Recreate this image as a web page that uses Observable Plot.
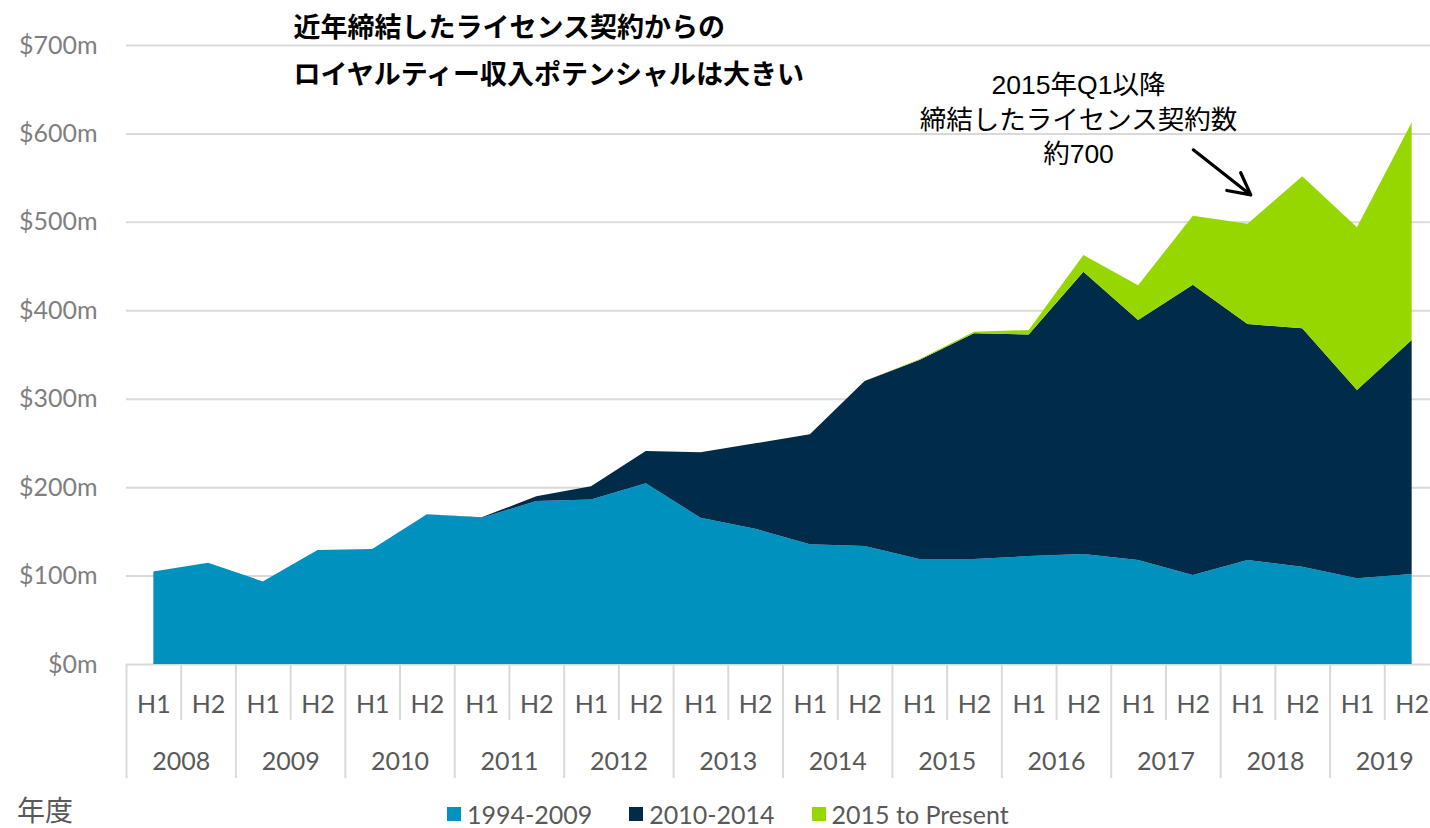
<!DOCTYPE html>
<html>
<head>
<meta charset="utf-8">
<script src="https://cdn.jsdelivr.net/npm/d3@7"></script>
<script src="https://cdn.jsdelivr.net/npm/@observablehq/plot@0.6"></script>
<style>
  html, body { margin: 0; padding: 0; background: #ffffff; }
  #wrap { position: relative; width: 1430px; height: 828px; overflow: hidden; }
  #chart svg { display: block; overflow: visible; }
  #nendo { position: absolute; left: 17px; top: 791px; font-family: "Noto Sans CJK JP", sans-serif; font-size: 28px; line-height: 36px; color: #595959; }
  #legend { position: absolute; left: 447px; top: 802px; height: 24px; display: flex; align-items: center; font-family: Lato, "Open Sans", sans-serif; font-size: 25px; line-height: 24px; color: #595959; }
  #legend .item { display: flex; align-items: center; margin-right: 37px; }
  #legend .sw { width: 14px; height: 14px; margin-right: 6px; }
</style>
</head>
<body>
<div id="wrap">
  <div id="chart"></div>
  <div id="nendo">年度</div>
  <div id="legend"></div>
</div>
<script>
// ---- data ----
const years = ["2008","2009","2010","2011","2012","2013","2014","2015","2016","2017","2018","2019"];
const halves = ["H1","H2"];
const seriesNames = ["1994-2009","2010-2014","2015 to Present"];
const seriesColors = ["#0091BE","#002B49","#97D700"];
// values in $m per half-year (stack components)
const v1994 = [104.5,114.6,93.4,129,130,169.3,165.5,184.3,186,204.3,165.5,153,135.4,133.4,118.7,118.7,122,124.4,117.6,100.6,117.6,110,96.9,101.8];
const v2010 = [0,0,0,0,0,0,0.5,5.3,15,36.6,73.9,96.5,124.3,186.6,225.1,255.3,250.5,319.2,271.4,328.3,266.9,269.6,212.9,264.6];
const v2015 = [0,0,0,0,0,0,0,0,0,0,0,0,0,0,0.8,1.8,5.2,18.9,39.2,78.1,113.5,171.9,184,246.1];
const yTicks = [0,100,200,300,400,500,600,700];
const titleLines = ["近年締結したライセンス契約からの","ロイヤルティー収入ポテンシャルは大きい"];
const noteText = ["2015年Q1以降","締結したライセンス契約数","約700"];
const noteArrow = [{x1: 19.0, y1: 582, x2: 20.05, y2: 531}];

// ---- build tables ----
const periods = [];
years.forEach(y => halves.forEach(h => periods.push({year: y, half: h})));
const seriesValues = [v1994, v2010, v2015];
const rows = [];
seriesNames.forEach((s, k) => {
  seriesValues[k].forEach((v, i) => rows.push({i, series: s, value: v}));
});
const idx = periods.map((_, i) => i);
const innerBounds = years.map((_, k) => 2 * k + 0.5);
const yearBounds = [-0.5, ...years.map((_, k) => 2 * k + 1.5)];
const yearCenters = years.map((_, k) => 2 * k + 0.5);

const tickFont = "Lato, 'Open Sans', sans-serif";

const chart = Plot.plot({
  width: 1430,
  height: 790,
  marginLeft: 126,
  marginRight: -9,
  marginTop: 45,
  marginBottom: 126,
  x: {domain: [-0.5, periods.length - 0.5]},
  y: {domain: [0, 700]},
  color: {domain: seriesNames, range: seriesColors},
  style: {fontFamily: tickFont, background: "#ffffff", overflow: "visible"},
  marks: [
    Plot.ruleY(yTicks, {stroke: "#d9d9d9", strokeWidth: 2}),
    Plot.areaY(rows, Plot.stackY({x: "i", y: "value", fill: "series", order: seriesNames})),
    Plot.axisY(yTicks, {anchor: "left", tickSize: 0, tickPadding: 29, tickFormat: d => `$${d}m`, fontSize: 25, fill: "#7f7f7f", label: null}),
    Plot.axisX(innerBounds, {anchor: "bottom", tickSize: 56, tickFormat: () => "", stroke: "#d9d9d9", strokeWidth: 2, label: null}),
    Plot.axisX(yearBounds, {anchor: "bottom", tickSize: 114, tickFormat: () => "", stroke: "#d9d9d9", strokeWidth: 2, label: null}),
    Plot.axisX(idx, {anchor: "bottom", tickSize: 0, tickPadding: 31, tickFormat: i => periods[i].half, fontSize: 25, fill: "#595959", label: null}),
    Plot.axisX(yearCenters, {anchor: "bottom", tickSize: 0, tickPadding: 88, tickFormat: v => years[Math.round((v - 0.5) / 2)], fontSize: 25, fill: "#595959", label: null}),
    Plot.text([titleLines.join("\n")], {
      frameAnchor: "top-left", dx: 167, dy: 0, text: d => d, textAnchor: "start", lineAnchor: "middle",
      lineHeight: 1.72, fontSize: 27, fontWeight: "bold", fill: "#000000",
      fontFamily: "'Noto Sans CJK JP', sans-serif"
    }),
    Plot.text([noteText.join("\n")], {
      frameAnchor: "top-left", dx: 952, dy: 72, text: d => d, textAnchor: "middle", lineAnchor: "middle",
      lineHeight: 1.3, fontSize: 26.5, fill: "#000000",
      fontFamily: "'Liberation Sans', 'Noto Sans CJK JP', sans-serif"
    }),
    Plot.arrow(noteArrow, {x1: "x1", y1: "y1", x2: "x2", y2: "y2", stroke: "#000000", strokeWidth: 3.2, headLength: 16, headAngle: 55})
  ]
});
document.getElementById("chart").appendChild(chart);

// legend
const legend = document.getElementById("legend");
seriesNames.forEach((s, k) => {
  const item = document.createElement("div");
  item.className = "item";
  const sw = document.createElement("div");
  sw.className = "sw";
  sw.style.background = seriesColors[k];
  const lab = document.createElement("span");
  lab.textContent = s;
  item.appendChild(sw);
  item.appendChild(lab);
  legend.appendChild(item);
});
</script>
</body>
</html>
